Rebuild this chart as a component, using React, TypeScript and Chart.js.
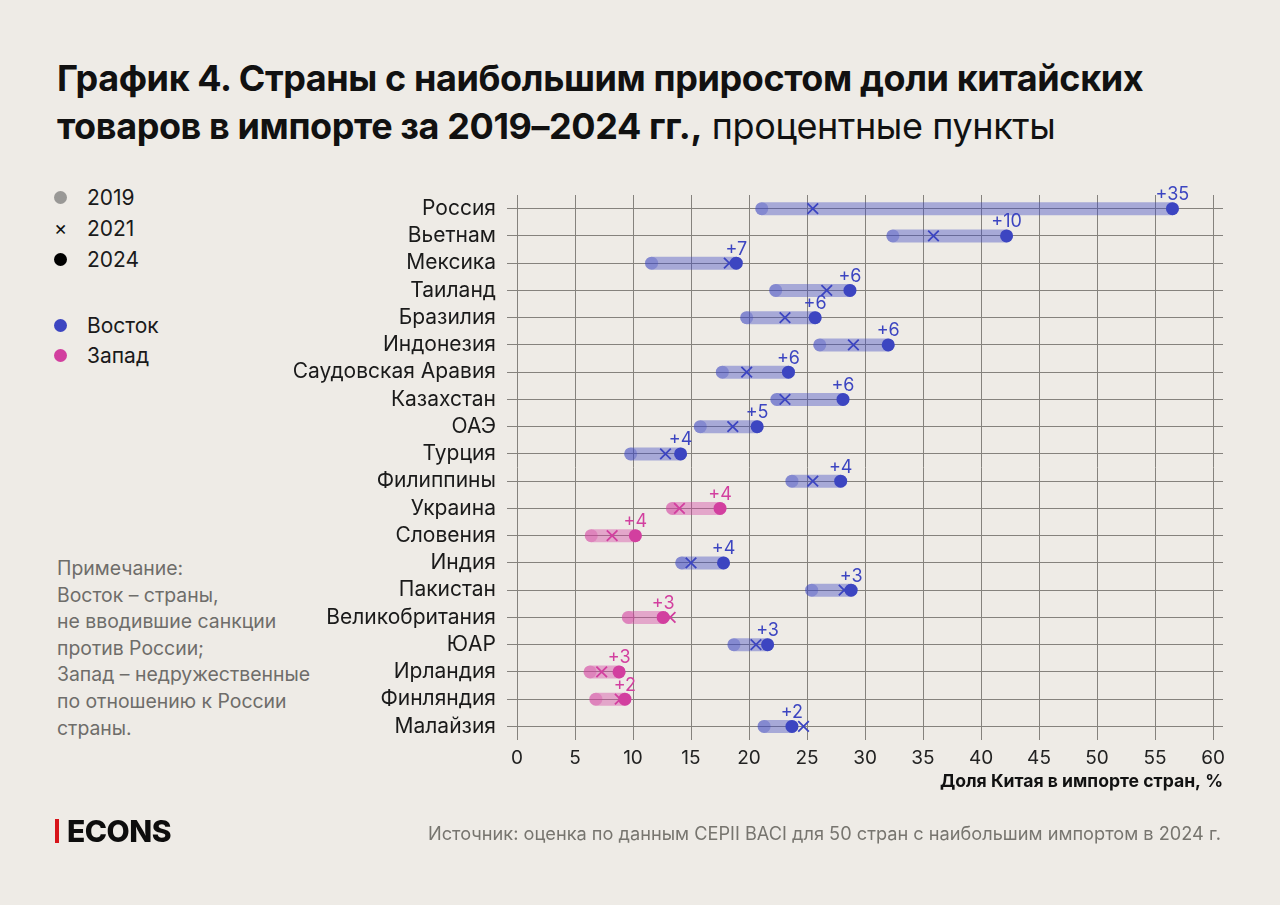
import React, { useEffect, useRef } from 'react';
import { Chart, registerables } from 'chart.js';

Chart.register(...registerables);

// ---- data ----
const countries = [
  'Россия', 'Вьетнам', 'Мексика', 'Таиланд', 'Бразилия', 'Индонезия',
  'Саудовская Аравия', 'Казахстан', 'ОАЭ', 'Турция', 'Филиппины', 'Украина',
  'Словения', 'Индия', 'Пакистан', 'Великобритания', 'ЮАР', 'Ирландия',
  'Финляндия', 'Малайзия',
];
const region = [
  'E', 'E', 'E', 'E', 'E', 'E', 'E', 'E', 'E', 'E', 'E', 'W',
  'W', 'E', 'E', 'W', 'E', 'W', 'W', 'E',
];
const share2019 = [21.1, 32.4, 11.6, 22.3, 19.8, 26.1, 17.7, 22.4, 15.8, 9.8, 23.7, 13.4, 6.4, 14.2, 25.4, 9.6, 18.7, 6.3, 6.8, 21.3];
const share2021 = [25.5, 35.9, 18.3, 26.7, 23.1, 29.0, 19.8, 23.1, 18.6, 12.8, 25.5, 14.0, 8.2, 15.0, 28.2, 13.2, 20.6, 7.3, 8.9, 24.7];
const share2024 = [56.5, 42.2, 18.9, 28.7, 25.7, 32.0, 23.4, 28.1, 20.7, 14.1, 27.9, 17.5, 10.2, 17.8, 28.8, 12.6, 21.6, 8.8, 9.3, 23.7];
const changeLabels = ['+35', '+10', '+7', '+6', '+6', '+6', '+6', '+6', '+5', '+4', '+4', '+4', '+4', '+4', '+3', '+3', '+3', '+3', '+2', '+2'];
const xTickValues = [0, 5, 10, 15, 20, 25, 30, 35, 40, 45, 50, 55, 60];

// ---- styles ----
const BG = '#eeebe6';
const FONT = 'Inter, "Noto Sans", sans-serif';
const EAST = '#3c45c1';
const WEST = '#d23f9f';
const EAST_BAR = 'rgba(60,69,193,0.40)';
const WEST_BAR = 'rgba(210,63,159,0.40)';
const EAST_2019 = 'rgba(60,69,193,0.32)';
const WEST_2019 = 'rgba(210,63,159,0.32)';
const GRID = '#85827d';

const solid = (i: number) => (region[i] === 'E' ? EAST : WEST);
const barCol = (i: number) => (region[i] === 'E' ? EAST_BAR : WEST_BAR);
const col2019 = (i: number) => (region[i] === 'E' ? EAST_2019 : WEST_2019);

const changeLabelPlugin = {
  id: 'changeLabels',
  afterDatasetsDraw(chart: any) {
    const idx = chart.data.datasets.findIndex((d: any) => d.label === '2024');
    const meta = chart.getDatasetMeta(idx);
    const ctx = chart.ctx;
    ctx.save();
    ctx.font = `400 18px ${FONT}`;
    ctx.textAlign = 'center';
    ctx.textBaseline = 'bottom';
    meta.data.forEach((pt: any, i: number) => {
      ctx.fillStyle = solid(i);
      ctx.fillText(changeLabels[i], pt.x, pt.y - 5);
    });
    ctx.restore();
  },
};

function DumbbellChart() {
  const ref = useRef<HTMLCanvasElement | null>(null);
  useEffect(() => {
    if (!ref.current) return;
    const rangeData: any[] = [];
    countries.forEach((c, i) => {
      rangeData.push({ x: share2019[i], y: c }, { x: share2024[i], y: c }, { x: null, y: null });
    });
    const chart = new Chart(ref.current, {
      type: 'line',
      data: {
        datasets: [
          {
            label: 'range',
            data: rangeData,
            order: 4,
            borderWidth: 13,
            borderCapStyle: 'round',
            spanGaps: false,
            pointRadius: 0,
            borderColor: EAST_BAR,
            segment: {
              borderColor: (c: any) => barCol(Math.floor(c.p0DataIndex / 3)),
            },
          } as any,
          {
            label: '2019',
            data: countries.map((c, i) => ({ x: share2019[i], y: c })),
            order: 3,
            showLine: false,
            pointRadius: 6.5,
            pointBorderWidth: 0,
            pointBackgroundColor: countries.map((_, i) => col2019(i)),
          } as any,
          {
            label: '2021',
            data: countries.map((c, i) => ({ x: share2021[i], y: c })),
            order: 2,
            showLine: false,
            pointStyle: 'crossRot',
            pointRadius: 7.5,
            pointBorderWidth: 1.8,
            pointBorderColor: countries.map((_, i) => solid(i)),
          } as any,
          {
            label: '2024',
            data: countries.map((c, i) => ({ x: share2024[i], y: c })),
            order: 1,
            showLine: false,
            pointRadius: 6.5,
            pointBorderWidth: 0,
            pointBackgroundColor: countries.map((_, i) => solid(i)),
          } as any,
        ],
      },
      options: {
        animation: false,
        responsive: false,
        events: [],
        layout: { padding: { left: 0, right: 57, top: 195, bottom: 110 } },
        plugins: { legend: { display: false }, tooltip: { enabled: false } },
        scales: {
          x: {
            type: 'linear',
            min: 0,
            max: 60.86,
            afterBuildTicks: (s: any) => {
              s.ticks = xTickValues.map((v) => ({ value: v }));
            },
            afterFit: (s: any) => {
              s.height = 55;
            },
            grid: { color: GRID, lineWidth: 1, drawTicks: false },
            border: { display: false },
            ticks: {
              padding: 7,
              color: '#222',
              font: { family: FONT, size: 19 },
              autoSkip: false,
              maxRotation: 0,
            },
            title: {
              display: true,
              text: 'Доля Китая в импорте стран, %',
              align: 'end',
              color: '#111',
              font: { family: FONT, size: 17.6, weight: 'bold' },
              padding: { top: 0, bottom: 3 },
            },
          },
          y: {
            type: 'category',
            labels: countries,
            offset: true,
            afterFit: (s: any) => {
              s.width = 517;
            },
            grid: { color: GRID, lineWidth: 1, offset: false, drawTicks: true, tickLength: 10, tickColor: GRID },
            border: { display: false },
            ticks: {
              padding: 11,
              color: '#1a1a1a',
              font: { family: FONT, size: 21 },
              autoSkip: false,
            },
          },
        },
      } as any,
      plugins: [changeLabelPlugin],
    });
    return () => chart.destroy();
  }, []);
  return <canvas ref={ref} width={1280} height={905} style={{ position: 'absolute', left: 0, top: 0 }} />;
}

const legendYears = [
  { label: '2019', kind: 'dot', color: '#999896', y: 197 },
  { label: '2021', kind: 'cross', color: '#111', y: 228 },
  { label: '2024', kind: 'dot', color: '#000', y: 259 },
  { label: 'Восток', kind: 'dot', color: EAST, y: 325 },
  { label: 'Запад', kind: 'dot', color: WEST, y: 355 },
];

const noteLines = [
  'Примечание:',
  'Восток – страны,',
  'не вводившие санкции',
  'против России;',
  'Запад – недружественные',
  'по отношению к России',
  'страны.',
];

export default function App() {
  return (
    <div
      style={{
        position: 'absolute',
        left: 0,
        top: 0,
        width: 1280,
        height: 905,
        background: BG,
        fontFamily: FONT,
        overflow: 'hidden',
      }}
    >
      <div
        style={{
          position: 'absolute',
          left: 57,
          top: 54,
          fontSize: 36,
          lineHeight: '48px',
          color: '#111',
          letterSpacing: '-0.4px',
          whiteSpace: 'nowrap',
        }}
      >
        <b style={{ fontWeight: 700 }}>График 4. Страны с наибольшим приростом доли китайских</b>
        <br />
        <b style={{ fontWeight: 700 }}>товаров в импорте за 2019–2024 гг.,</b>
        <span style={{ fontWeight: 400 }}> процентные пункты</span>
      </div>

      {legendYears.map((l) => (
        <div key={l.label} style={{ position: 'absolute', left: 54, top: l.y - 14, height: 28, display: 'flex', alignItems: 'center' }}>
          {l.kind === 'dot' ? (
            <span style={{ display: 'inline-block', width: 13, height: 13, borderRadius: '50%', background: l.color, marginRight: 20 }} />
          ) : (
            <span style={{ display: 'inline-block', width: 13, textAlign: 'center', fontSize: 20, color: l.color, marginRight: 20 }}>×</span>
          )}
          <span style={{ fontSize: 21, color: '#1a1a1a' }}>{l.label}</span>
        </div>
      ))}

      <div style={{ position: 'absolute', left: 57, top: 555, fontSize: 19.4, lineHeight: '26.6px', color: '#6e6d6a' }}>
        {noteLines.map((t) => (
          <div key={t}>{t}</div>
        ))}
      </div>

      <DumbbellChart />

      <div style={{ position: 'absolute', left: 55, top: 819, width: 4, height: 24, background: '#d7141a' }} />
      <div style={{ position: 'absolute', left: 67, top: 812, fontSize: 30, fontWeight: 800, color: '#0d0d0d', letterSpacing: '-0.5px', lineHeight: '38px' }}>
        ECONS
      </div>

      <div
        style={{
          position: 'absolute',
          right: 59,
          top: 821,
          fontSize: 18.2,
          lineHeight: '24px',
          color: '#77756f',
          whiteSpace: 'nowrap',
        }}
      >
        Источник: оценка по данным CEPII BACI для 50 стран с наибольшим импортом в 2024 г.
      </div>
    </div>
  );
}
